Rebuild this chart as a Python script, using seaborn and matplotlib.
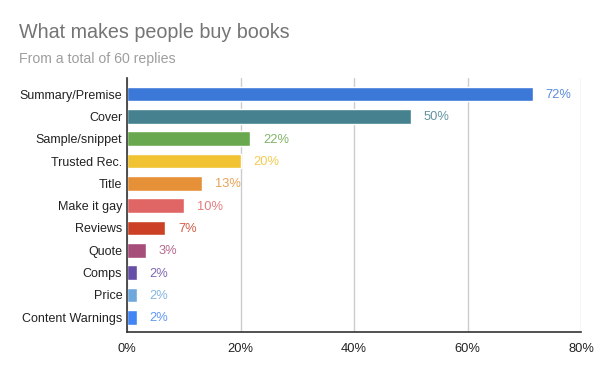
import numpy as np
import pandas as pd
import matplotlib
matplotlib.use("Agg")
import matplotlib.pyplot as plt
import seaborn as sns

categories = ["Summary/Premise", "Cover", "Sample/snippet", "Trusted Rec.", "Title",
              "Make it gay", "Reviews", "Quote", "Comps", "Price", "Content Warnings"]
shares = [0.715, 0.50, 0.217, 0.20, 0.133, 0.10, 0.067, 0.033, 0.017, 0.017, 0.017]
labels = ["72%", "50%", "22%", "20%", "13%", "10%", "7%", "3%", "2%", "2%", "2%"]
colors = ["#3c78d8", "#45818e", "#6aa84f", "#f1c232", "#e69138", "#e06666",
          "#cc4125", "#a64d79", "#674ea7", "#6fa8dc", "#4285f4"]
x_ticks = [0, 0.2, 0.4, 0.6, 0.8]
x_ticklabels = ["0%", "20%", "40%", "60%", "80%"]

df = pd.DataFrame({"reason": categories, "share": shares})

sns.set_style("white")
plt.rcParams["font.family"] = ["Liberation Sans", "DejaVu Sans"]

fig = plt.figure(figsize=(6, 3.71), dpi=100)
ax = fig.add_axes([127 / 600, 1 - 332 / 371, 454 / 600, 254 / 371])

sns.barplot(data=df, y="reason", x="share", hue="reason", palette=dict(zip(categories, colors)),
            legend=False, width=0.66, saturation=1, ax=ax, zorder=3)

ax.set_xlim(0, 0.8)
ax.set_ylim(10.66, -0.72)
ax.set_xticks(x_ticks)
ax.set_xticklabels(x_ticklabels)
ax.set_xlabel("")
ax.set_ylabel("")
ax.grid(axis="x", color="#cccccc", linewidth=1, zorder=0)
ax.tick_params(axis="both", length=0, labelsize=9, colors="#222222")
ax.tick_params(axis="y", pad=3.5)
ax.tick_params(axis="x", pad=8, labelsize=9.3)

for side in ["top", "right"]:
    ax.spines[side].set_visible(False)
for side in ["left", "bottom"]:
    ax.spines[side].set_color("#333333")
    ax.spines[side].set_linewidth(1.2)
    ax.spines[side].set_zorder(4)

# value labels next to bars
for i, (v, lab, c) in enumerate(zip(shares, labels, colors)):
    ax.annotate(lab, (v, i), xytext=(13, -1), textcoords="offset pixels",
                va="center", ha="left", fontsize=9.3, color=c, alpha=0.85)

fig.text(19 / 600, 1 - 38 / 371, "What makes people buy books", fontsize=14.2, color="#757575")
fig.text(19 / 600, 1 - 63 / 371, "From a total of 60 replies", fontsize=10.2, color="#9e9e9e")

fig.savefig("out.png", dpi=100)
